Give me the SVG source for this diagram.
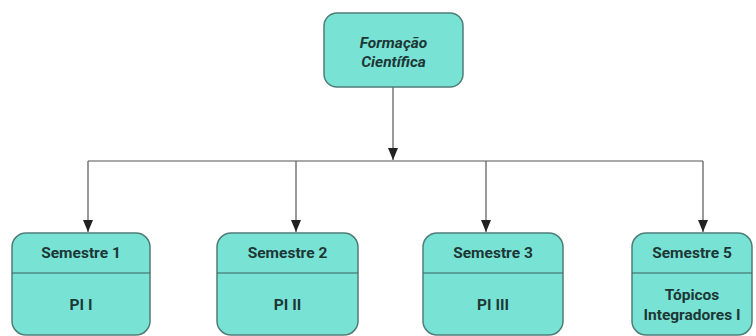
<svg xmlns="http://www.w3.org/2000/svg" width="756" height="336" viewBox="0 0 756 336">
<style>
.box{fill:#78e3d5;stroke:#4f7d78;stroke-width:1.5}
.div{stroke:#3d625e;stroke-width:1.2}
.t{font-family:Roboto,"Liberation Sans",sans-serif;font-weight:bold;font-size:15.5px;fill:#1d3735;text-anchor:middle}
.it{font-style:italic}
.c{stroke:#555;stroke-width:1.2;fill:none}
</style>
<defs>
<marker id="ah" markerWidth="12" markerHeight="10" refX="12" refY="5" orient="auto" markerUnits="userSpaceOnUse" viewBox="0 0 12 10">
<path d="M0,0 L12,5 L0,10 Z" fill="#222"/>
</marker>
</defs>
<rect width="756" height="336" fill="#fff"/>
<g id="connectors">
<path class="c" d="M393,87 V160" marker-end="url(#ah)"/>
<path class="c" d="M88,161 H703"/>
<path class="c" d="M88,161 V232" marker-end="url(#ah)"/>
<path class="c" d="M296,161 V232" marker-end="url(#ah)"/>
<path class="c" d="M486,161 V232" marker-end="url(#ah)"/>
<path class="c" d="M703,161 V232" marker-end="url(#ah)"/>
</g>
<g id="formacao">
<rect class="box" x="324" y="13" width="139" height="74" rx="13"/>
<text class="t it" x="393.5" y="48">Formação</text>
<text class="t it" x="393.5" y="67">Científica</text>
</g>
<g id="sem1">
<rect class="box" x="12" y="233" width="138" height="102" rx="14"/>
<line class="div" x1="12" y1="273" x2="150" y2="273"/>
<text class="t" x="81" y="258">Semestre 1</text>
<text class="t" x="81" y="310">PI I</text>
</g>
<g id="sem2">
<rect class="box" x="217" y="233" width="141" height="102" rx="14"/>
<line class="div" x1="217" y1="273" x2="358" y2="273"/>
<text class="t" x="287.5" y="258">Semestre 2</text>
<text class="t" x="287.5" y="310">PI II</text>
</g>
<g id="sem3">
<rect class="box" x="423" y="233" width="140" height="102" rx="14"/>
<line class="div" x1="423" y1="273" x2="563" y2="273"/>
<text class="t" x="493" y="258">Semestre 3</text>
<text class="t" x="493" y="310">PI III</text>
</g>
<g id="sem5">
<rect class="box" x="632" y="233" width="120" height="102" rx="14"/>
<line class="div" x1="632" y1="273" x2="752" y2="273"/>
<text class="t" x="692" y="258">Semestre 5</text>
<text class="t" x="692" y="300">Tópicos</text>
<text class="t" x="692" y="320">Integradores I</text>
</g>
</svg>
